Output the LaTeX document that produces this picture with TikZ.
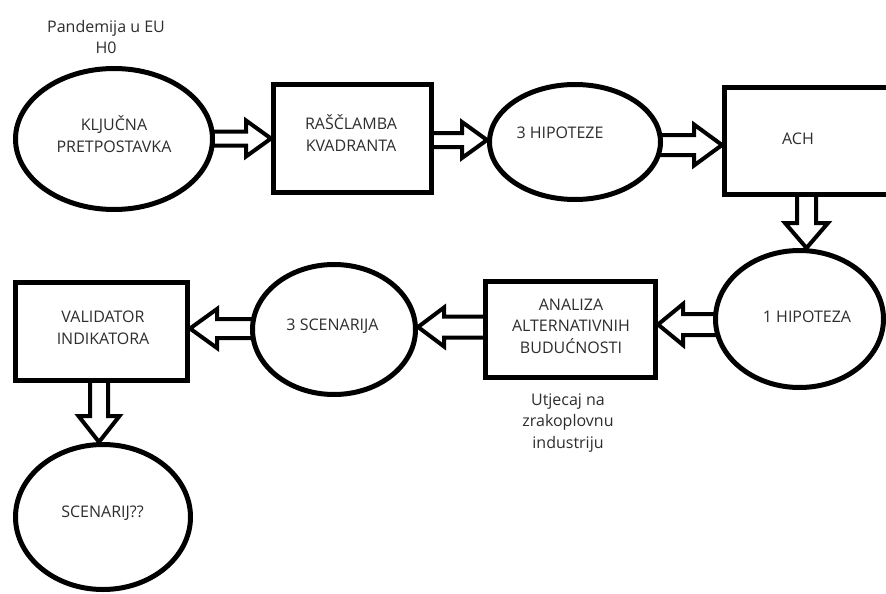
\documentclass[tikz,border=0pt]{standalone}
\usepackage{fontspec}
\setmainfont{Open Sans}
\usetikzlibrary{shapes.geometric,calc,backgrounds}
\definecolor{txt}{RGB}{45,45,45}
% right-pointing block arrow: from, to, y, shaft half, head half, head length
\newcommand\rarr[6]{\draw[barrow] let \p1=(#1.east), \p2=(#2.west) in
  (\x1-12pt,#3pt+#4pt) -- (\x2-#6pt,#3pt+#4pt) -- (\x2-#6pt,#3pt+#5pt) -- (\x2,#3pt)
  -- (\x2-#6pt,#3pt-#5pt) -- (\x2-#6pt,#3pt-#4pt) -- (\x1-12pt,#3pt-#4pt) -- cycle;}
% left-pointing block arrow
\newcommand\larr[6]{\draw[barrow] let \p1=(#1.west), \p2=(#2.east) in
  (\x1+12pt,#3pt+#4pt) -- (\x2+#6pt,#3pt+#4pt) -- (\x2+#6pt,#3pt+#5pt) -- (\x2,#3pt)
  -- (\x2+#6pt,#3pt-#5pt) -- (\x2+#6pt,#3pt-#4pt) -- (\x1+12pt,#3pt-#4pt) -- cycle;}
% down-pointing block arrow: from, to, x, shaft half, head half, head length
\newcommand\darr[6]{\draw[barrow] let \p1=(#1.south), \p2=(#2.north) in
  (#3pt+#4pt,\y1+12pt) -- (#3pt+#4pt,\y2+#6pt) -- (#3pt+#5pt,\y2+#6pt) -- (#3pt,\y2)
  -- (#3pt-#5pt,\y2+#6pt) -- (#3pt-#4pt,\y2+#6pt) -- (#3pt-#4pt,\y1+12pt) -- cycle;}
\begin{document}
\begin{tikzpicture}[x=1pt,y=1pt,
  shp/.style={draw=black,line width=5pt,fill=white,inner sep=0pt},
  ell/.style={shp,ellipse},
  box/.style={shp,rectangle},
  lbl/.style={text=txt,font=\fontsize{16}{21.5}\selectfont,align=center,inner sep=0pt},
  barrow/.style={draw=black,line width=4pt,fill=white,line join=miter}]
\useasboundingbox (0,0) rectangle (886,-594);
\clip (0,0) rectangle (886,-594);

% shapes
\node[ell,minimum width=197pt,minimum height=141pt] (k)  at (114,-139) {};
\node[box,minimum width=158pt,minimum height=108pt] (r)  at (352.5,-138.5) {};
\node[ell,minimum width=171pt,minimum height=115pt] (h3) at (575,-142) {};
\node[box,minimum width=235pt,minimum height=107pt] (ach) at (842,-141) {};
\node[ell,minimum width=168pt,minimum height=137pt] (h1) at (799.5,-319) {};
\node[box,minimum width=170pt,minimum height=96pt]  (an) at (570.5,-329.5) {};
\node[ell,minimum width=163pt,minimum height=130pt] (s3) at (334,-329.5) {};
\node[box,minimum width=172pt,minimum height=98pt]  (v)  at (101.5,-331.5) {};
\node[ell,minimum width=175pt,minimum height=145pt] (sc) at (103,-517) {};

% texts
\node[lbl] (top) at (106,-37) {Pandemija u EU\\H0};
\node[lbl] (kt)  at (114,-134) {KLJUČNA\\PRETPOSTAVKA};
\node[lbl] (rt)  at (351,-133) {RAŠČLAMBA\\KVADRANTA};
\node[lbl] (h3t) at (560,-133) {3 HIPOTEZE};
\node[lbl] (acht) at (798,-139) {ACH};
\node[lbl] (h1t) at (807,-317) {1 HIPOTEZA};
\node[lbl] (ant) at (571,-326) {ANALIZA\\ALTERNATIVNIH\\BUDUĆNOSTI};
\node[lbl] (ut)  at (568,-423) {Utjecaj na\\zrakoplovnu\\industriju};
\node[lbl] (s3t) at (332.5,-326) {3 SCENARIJA};
\node[lbl] (vt)  at (103,-328) {VALIDATOR\\INDIKATORA};
\node[lbl] (sct) at (102.5,-513) {SCENARIJ??};

% block arrows
\begin{scope}[on background layer]
\rarr{k}{r}{-138.5}{7}{18}{25}
\rarr{r}{h3}{-140}{7}{18}{25}
\rarr{h3}{ach}{-145}{10}{20.5}{28}
\darr{ach}{h1}{806.5}{9.5}{21.5}{25}
\larr{h1}{an}{-324.5}{10.5}{20.5}{25}
\larr{an}{s3}{-327}{10.5}{19.5}{26}
\larr{s3}{v}{-328.5}{9.5}{19.5}{27}
\darr{v}{sc}{99}{9}{20.5}{26}
\end{scope}
\end{tikzpicture}
\end{document}
